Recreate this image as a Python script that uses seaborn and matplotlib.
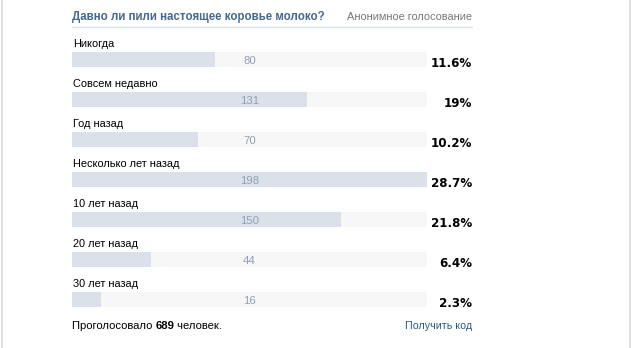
import numpy as np
import pandas as pd
import matplotlib
matplotlib.use("Agg")
import matplotlib.pyplot as plt
import matplotlib.transforms as mtransforms
import seaborn as sns

# ---- data ----
title = "Давно ли пили настоящее коровье молоко?"
subtitle = "Анонимное голосование"
answers = ["Никогда", "Совсем недавно", "Год назад", "Несколько лет назад",
           "10 лет назад", "20 лет назад", "30 лет назад"]
votes = [80, 131, 70, 198, 150, 44, 16]
footer_left = "Проголосовало"
footer_right_word = "человек."
footer_link = "Получить код"

sns.set_theme(style="white")
plt.rcParams['font.family'] = ['Liberation Sans', 'DejaVu Sans']

W, H = 632, 348
fig = plt.figure(figsize=(W / 100, H / 100), dpi=100)
fig.patch.set_facecolor("white")

total = sum(votes)
df = pd.DataFrame({"answer": answers, "votes": votes,
                   "track": [max(votes)] * len(votes)})

# bar area: x from 72 to 427 px, rows centred at 59.5 + 40*i (from top)
x0, x1 = 72, 427
row0, step = 59.5, 40
n = len(answers)
top = row0 - step / 2
bottom = row0 + step * (n - 0.5)
ax = fig.add_axes([x0 / W, 1 - bottom / H, (x1 - x0) / W, (bottom - top) / H])

bw = 15 / step
sns.barplot(data=df, x="track", y="answer", orient="h", color="#f7f7f7",
            width=bw, ax=ax, saturation=1, linewidth=0)
sns.barplot(data=df, x="votes", y="answer", orient="h", color="#dae1e8",
            width=bw, ax=ax, saturation=1, linewidth=0)
ax.set_xlim(0, max(votes))
ax.set_ylim(n - 0.5, -0.5)
ax.axis("off")

fs = 7.9
trans_fig_data = mtransforms.blended_transform_factory(fig.transFigure, ax.transData)
for i, (a, v) in enumerate(zip(answers, votes)):
    ax.text(0.5, i - 15.5 / step, a, ha="left", va="center", fontsize=fs,
            color="#000000")
    ax.text(max(votes) / 2, i + 0.5 / step, str(v), ha="center",
            va="center_baseline", fontsize=8.2, color="#8fa1b5")
    pct = round(v / total * 100, 1)
    pct_s = (f"{pct:.1f}".rstrip("0").rstrip(".")) + "%"
    ax.text(472 / W, i + 2.5 / step, pct_s, ha="right", va="center_baseline",
            fontsize=8.6, fontweight="bold", color="#000000",
            family="DejaVu Sans", transform=trans_fig_data)

# title and header line
fig.text(72 / W, 1 - 17 / H, title, ha="left", va="center", fontsize=8.3,
         fontweight="bold", color="#45688e")
fig.text(472 / W, 1 - 17 / H, subtitle, ha="right", va="center", fontsize=7.9,
         color="#777777")
fig.add_artist(plt.Line2D([72 / W, 472 / W], [1 - 26.5 / H, 1 - 26.5 / H],
                          color="#dae1e8", lw=1, transform=fig.transFigure))

# borders
for xp in (1.5, 629.5):
    fig.add_artist(plt.Line2D([xp / W, xp / W], [0, 1], color="#d9d9d9", lw=1.2,
                              transform=fig.transFigure))

# footer
fig.canvas.draw()
r = fig.canvas.get_renderer()
t1 = fig.text(72 / W, 1 - 326 / H, footer_left + " ", ha="left", va="center",
              fontsize=8.1, color="#000000")
bb = t1.get_window_extent(r)
t2 = fig.text(bb.x1 / W, 1 - 326 / H, str(total), ha="left", va="center",
              fontsize=8.1, fontweight="bold", color="#000000")
bb2 = t2.get_window_extent(r)
fig.text(bb2.x1 / W, 1 - 326 / H, " " + footer_right_word, ha="left", va="center",
         fontsize=8.1, color="#000000")
fig.text(472 / W, 1 - 326 / H, footer_link, ha="right", va="center",
         fontsize=7.7, color="#2b587a")

fig.savefig("out.png", dpi=100, facecolor="white")
